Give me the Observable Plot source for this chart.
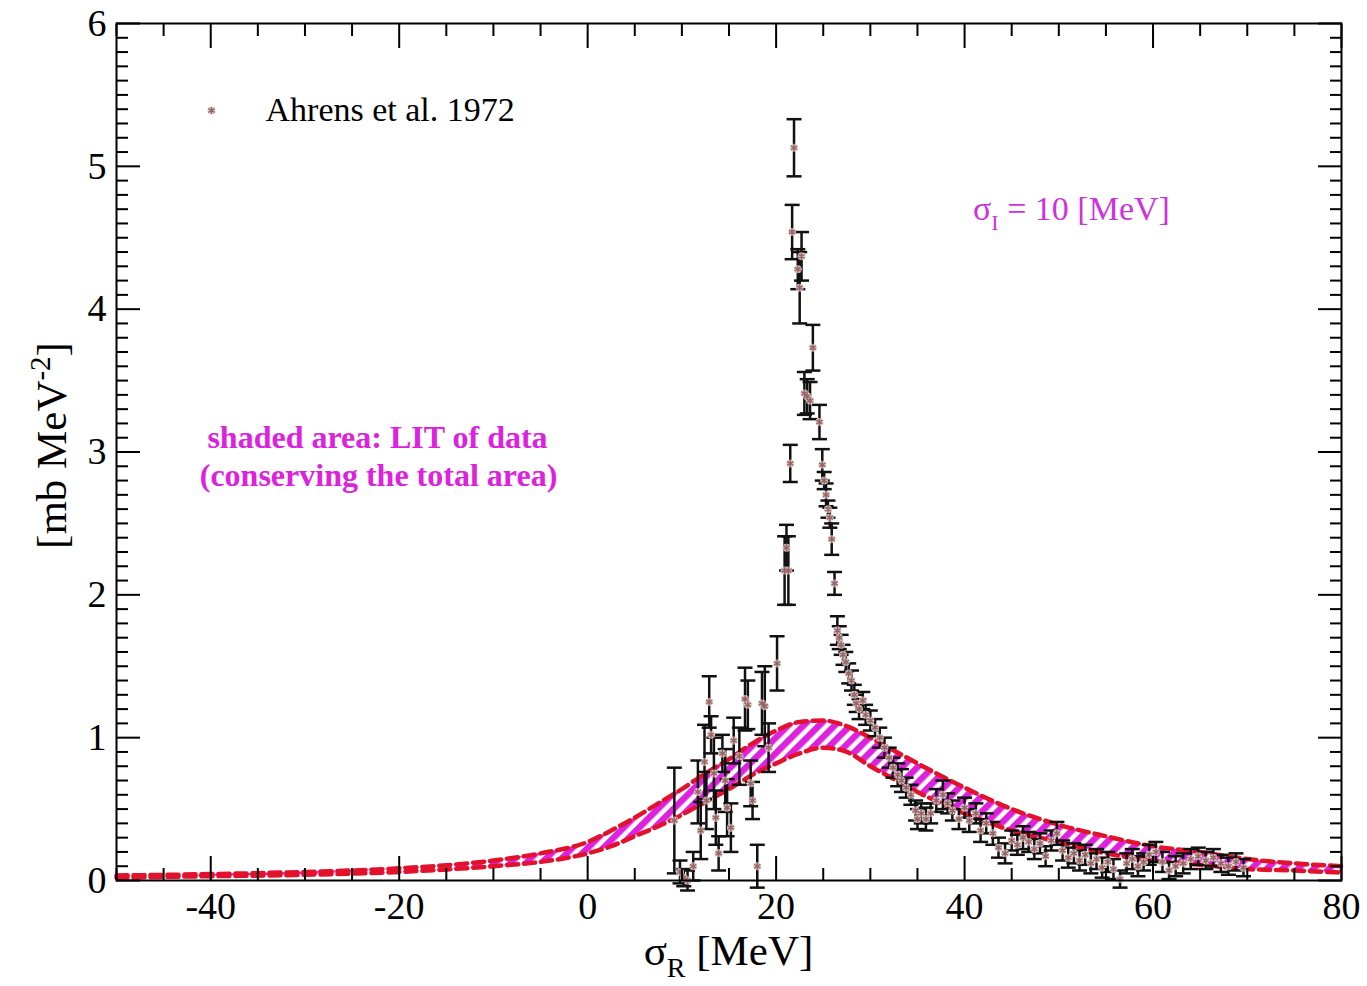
<!DOCTYPE html>
<html>
<head>
<meta charset="utf-8">
<script src="https://cdn.jsdelivr.net/npm/d3@7"></script>
<script src="https://cdn.jsdelivr.net/npm/@observablehq/plot@0.6"></script>
<style>
  body { margin: 0; background: #fff; }
  #chart { position: relative; width: 1367px; height: 986px; }
</style>
</head>
<body>
<div id="chart"></div>
<script>
// ---- Ahrens et al. 1972 data (x = σR [MeV], y = [mb MeV^-2], err = half error bar)
const ahrensX = [9.2,9.8,10.2,10.6,11.2,11.7,12.0,12.4,12.6,12.9,13.1,13.4,13.6,13.9,14.3,14.6,14.8,15.2,15.5,16.1,16.7,17.0,17.3,17.5,18.0,18.5,18.8,19.2,20.1,
  20.9,21.1,21.3,21.5,21.7,21.9,22.3,22.5,22.7,23.0,23.3,23.6,23.9,24.6,24.9,25.1,25.3,25.5,25.7,25.9,26.2,26.5,26.7,26.9,27.1,27.4,27.7,28.0,28.3,28.5,28.8,29.2,29.5,30.0,30.5,31.0,31.5,32.0,32.4,32.9,33.3,33.8,34.3,34.8,35.0,35.4,35.9,36.4,37.0,37.7,38.2,38.7,39.4,40.0,40.5,41.2,41.7,42.3,43.0,43.6,44.3,45.0,45.6,46.2,46.8,47.4,48.0,48.6,49.2,49.8,50.4,51.0,51.6,52.2,52.8,53.4,54.0,54.6,55.2,55.8,56.5,57.2,57.8,58.4,59.0,59.6,60.3,61.0,61.7,62.4,63.2,64.0,64.8,65.6,66.4,67.2,68.0,68.8,69.6];
const ahrensY = [0.42,0.06,0.02,0.00,0.10,0.62,0.35,0.83,0.56,1.25,1.02,0.75,0.44,0.19,0.89,0.70,0.51,0.37,0.98,0.87,1.27,1.23,0.68,0.56,0.10,1.24,1.22,0.93,1.52,
  2.17,2.33,2.17,2.92,4.54,5.13,4.28,4.15,4.37,3.41,3.39,3.36,3.73,3.21,2.91,2.80,2.70,2.60,2.54,2.39,2.08,1.75,1.70,1.65,1.58,1.53,1.45,1.40,1.30,1.24,1.20,1.26,1.16,1.12,1.07,1.00,0.93,0.86,0.79,0.74,0.70,0.65,0.60,0.49,0.43,0.47,0.43,0.47,0.56,0.60,0.54,0.49,0.43,0.51,0.42,0.47,0.35,0.40,0.33,0.23,0.19,0.28,0.25,0.30,0.27,0.22,0.26,0.17,0.28,0.33,0.21,0.16,0.19,0.14,0.18,0.12,0.15,0.09,0.13,0.08,0.01,0.12,0.15,0.10,0.13,0.18,0.20,0.13,0.07,0.10,0.12,0.15,0.17,0.14,0.16,0.12,0.10,0.13,0.09];
const ahrensErr = [0.37,0.08,0.06,0.07,0.10,0.22,0.20,0.26,0.20,0.18,0.13,0.25,0.19,0.12,0.13,0.22,0.20,0.17,0.16,0.20,0.22,0.17,0.16,0.13,0.15,0.22,0.28,0.17,0.19,
  0.24,0.16,0.24,0.13,0.19,0.20,0.14,0.25,0.17,0.15,0.12,0.13,0.16,0.12,0.11,0.06,0.08,0.06,0.07,0.11,0.08,0.10,0.08,0.07,0.07,0.07,0.07,0.07,0.07,0.06,0.07,0.06,0.07,0.07,0.06,0.07,0.07,0.07,0.07,0.08,0.08,0.07,0.07,0.07,0.07,0.07,0.08,0.07,0.08,0.10,0.07,0.07,0.07,0.07,0.08,0.07,0.08,0.07,0.08,0.07,0.07,0.07,0.07,0.08,0.07,0.07,0.07,0.07,0.07,0.08,0.07,0.07,0.07,0.07,0.07,0.07,0.07,0.07,0.07,0.07,0.06,0.07,0.07,0.07,0.06,0.07,0.07,0.07,0.06,0.07,0.07,0.07,0.06,0.06,0.06,0.06,0.06,0.06,0.06];

// ---- LIT band (σI = 10 MeV): upper and lower dashed curves
const litX     = [-50,-40,-30,-20,-10,-5,0,2.5,5,7.5,10,12.5,15,17.5,20,22.5,25,27.5,30,32.5,35,40,45,50,55,60,65,70,75,80];
const litUpper = [0.035,0.045,0.06,0.085,0.14,0.19,0.27,0.35,0.44,0.54,0.64,0.75,0.85,0.96,1.05,1.11,1.12,1.08,1.00,0.91,0.82,0.65,0.50,0.39,0.31,0.24,0.20,0.15,0.12,0.10];
const litLower = [0.02,0.03,0.04,0.06,0.10,0.13,0.19,0.24,0.31,0.38,0.46,0.55,0.64,0.74,0.82,0.89,0.93,0.90,0.80,0.71,0.62,0.47,0.35,0.27,0.19,0.14,0.11,0.08,0.07,0.055];

// ---- ticks
const xMajorTicks = [-40,-20,0,20,40,60,80];
const xMinorTicks = [-50,-45,-35,-30,-25,-15,-10,-5,5,10,15,25,30,35,45,50,55,65,70,75];
const yMajorTicks = [0,1,2,3,4,5,6];
const yMinorTicks = d3.range(1, 60).filter(i => i % 10 !== 0).map(i => i / 10);

// ---- texts
const legendLabel = "Ahrens et al. 1972";
const noteLine1 = "shaded area: LIT of data";
const noteLine2 = "(conserving the total area)";

const pts = ahrensX.map((x, i) => ({x, y: ahrensY[i], e: ahrensErr[i]}));
const band = litX.map((x, i) => ({x, hi: litUpper[i], lo: litLower[i]}));

const W = 1367, H = 986;
const mL = 116, mR = 26, mT = 23, mB = 106;
const serif = "'Liberation Serif', 'Times New Roman', serif";
const red = "#e3122c";
const magenta = "#dd22dd";
const markerColor = "#9a6464";
const haloColor = "#d9cccc";
const capSymbol = {draw(ctx) { ctx.moveTo(-7.5, 0); ctx.lineTo(7.5, 0); }};

const plot = Plot.plot({
  width: W, height: H,
  marginLeft: mL, marginRight: mR, marginTop: mT, marginBottom: mB,
  style: {fontFamily: serif, background: "#fff", color: "#000"},
  x: {domain: [-50, 80]},
  y: {domain: [0, 6]},
  marks: [
    Plot.areaY(band, {x: "x", y1: "lo", y2: "hi", fill: "url(#litStripes)", curve: "monotone-x"}),
    Plot.line(band, {x: "x", y: "hi", stroke: red, strokeWidth: 4.5, strokeDasharray: "11,6", curve: "monotone-x"}),
    Plot.line(band, {x: "x", y: "lo", stroke: red, strokeWidth: 4.5, strokeDasharray: "11,6", curve: "monotone-x"}),
    Plot.ruleX(pts, {x: "x", y1: d => d.y - d.e, y2: d => d.y + d.e, stroke: "#111", strokeWidth: 2.5}),
    Plot.dot(pts, {x: "x", y: d => d.y + d.e, symbol: capSymbol, fill: "none", stroke: "#111", strokeWidth: 2.5}),
    Plot.dot(pts, {x: "x", y: d => d.y - d.e, symbol: capSymbol, fill: "none", stroke: "#111", strokeWidth: 2.5}),
    Plot.dot(pts, {x: "x", y: "y", r: 4, fill: haloColor, fillOpacity: 0.9, stroke: "none"}),
    Plot.dot(pts, {x: "x", y: "y", symbol: "asterisk", r: 3.4, stroke: markerColor, strokeWidth: 1.4}),
    Plot.frame({stroke: "#000", strokeWidth: 2}),
    // tick marks (inward, all four sides)
    Plot.axisX({anchor: "bottom", ticks: xMajorTicks, tickSize: -24, tickFormat: () => "", strokeWidth: 2, label: null}),
    Plot.axisX({anchor: "bottom", ticks: xMinorTicks, tickSize: -12, tickFormat: () => "", strokeWidth: 2, label: null}),
    Plot.axisX({anchor: "top", ticks: xMajorTicks, tickSize: -24, tickFormat: () => "", strokeWidth: 2, label: null}),
    Plot.axisX({anchor: "top", ticks: xMinorTicks, tickSize: -12, tickFormat: () => "", strokeWidth: 2, label: null}),
    Plot.axisY({anchor: "left", ticks: yMajorTicks, tickSize: -24, tickFormat: () => "", strokeWidth: 2, label: null}),
    Plot.axisY({anchor: "left", ticks: yMinorTicks, tickSize: -12, tickFormat: () => "", strokeWidth: 2, label: null}),
    Plot.axisY({anchor: "right", ticks: yMajorTicks, tickSize: -24, tickFormat: () => "", strokeWidth: 2, label: null}),
    Plot.axisY({anchor: "right", ticks: yMinorTicks, tickSize: -12, tickFormat: () => "", strokeWidth: 2, label: null}),
    // tick labels
    Plot.axisX({anchor: "bottom", ticks: xMajorTicks, tickSize: 0, tickPadding: 12, fontSize: 38, label: null, tickFormat: d => String(d)}),
    Plot.axisY({anchor: "left", ticks: yMajorTicks, tickSize: 0, tickPadding: 10, fontSize: 38, label: null, tickFormat: d => String(d)}),
    // legend
    Plot.dot([legendLabel], {frameAnchor: "top-left", dx: 95, dy: 87, r: 4, fill: haloColor, stroke: "none"}),
    Plot.dot([legendLabel], {frameAnchor: "top-left", dx: 95, dy: 87, symbol: "asterisk", r: 3.4, stroke: markerColor, strokeWidth: 1.4}),
    Plot.text([legendLabel], {frameAnchor: "top-left", dx: 149, dy: 87, text: d => d, textAnchor: "start", lineAnchor: "middle", fontSize: 34, fill: "#000", fontFamily: serif}),
    // annotation
    Plot.text([noteLine1], {frameAnchor: "top-left", dx: 261, dy: 414, text: d => d, textAnchor: "middle", lineAnchor: "middle", fontSize: 32, fontWeight: "bold", fill: magenta, fontFamily: serif}),
    Plot.text([noteLine2], {frameAnchor: "top-left", dx: 262, dy: 452, text: d => d, textAnchor: "middle", lineAnchor: "middle", fontSize: 32, fontWeight: "bold", fill: magenta, fontFamily: serif})
  ]
});

const svg = d3.select(plot);
const defs = svg.insert("defs", ":first-child");
const pat = defs.append("pattern")
  .attr("id", "litStripes")
  .attr("patternUnits", "userSpaceOnUse")
  .attr("width", 11).attr("height", 11)
  .attr("patternTransform", "rotate(45)");
pat.append("rect").attr("width", 11).attr("height", 11).attr("fill", "#fff");
pat.append("rect").attr("width", 6.5).attr("height", 11).attr("fill", magenta);

// x-axis title with subscript
const cx = mL + (W - mL - mR) / 2;
const xt = svg.append("text").attr("x", cx).attr("y", 965).attr("text-anchor", "middle")
  .style("font-family", serif).style("font-size", "43px").attr("fill", "#000");
xt.append("tspan").text("σ");
xt.append("tspan").attr("dy", 12).style("font-size", "28px").text("R");
xt.append("tspan").attr("dy", -12).text(" [MeV]");

// y-axis title with superscript
const cy = mT + (H - mT - mB) / 2;
const yt = svg.append("text").attr("transform", `translate(66,${cy - 6}) rotate(-90)`).attr("text-anchor", "middle")
  .style("font-family", serif).style("font-size", "43px").attr("fill", "#000");
yt.append("tspan").text("[mb MeV");
yt.append("tspan").attr("dy", -16).style("font-size", "29px").text("-2");
yt.append("tspan").attr("dy", 16).text("]");

// σI annotation
const st = svg.append("text").attr("x", 973).attr("y", 220).attr("text-anchor", "start")
  .style("font-family", serif).style("font-size", "34px").attr("fill", "#cc33dd");
st.append("tspan").text("σ");
st.append("tspan").attr("dy", 10).style("font-size", "22px").text("I");
st.append("tspan").attr("dy", -10).text(" = 10 [MeV]");

document.getElementById("chart").appendChild(plot);
</script>
</body>
</html>
